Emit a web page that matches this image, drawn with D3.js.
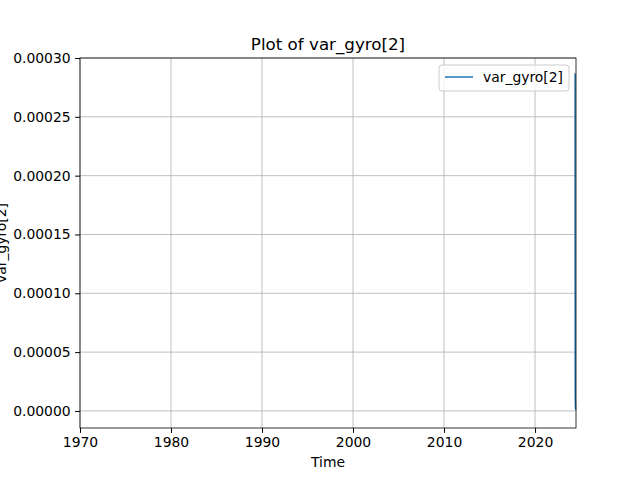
<!DOCTYPE html>
<html><head><meta charset="utf-8">
<script src="https://cdn.jsdelivr.net/npm/d3@7"></script>
<style>body{margin:0;background:#fff}text{font-family:"DejaVu Sans",sans-serif}</style>
</head><body><svg id="c" width="640" height="480"></svg>
<script>
// decimal years and variance values (all samples sit near the end)
var times = [2024.40, 2024.405, 2024.41, 2024.42, 2024.44, 2024.46];
var values = [0.000287, 0.00012, 0.00004, 0.000012, 0.000003, 0.000001];
var xTicks = [1970, 1980, 1990, 2000, 2010, 2020];
var yTicks = [0, 0.00005, 0.0001, 0.00015, 0.0002, 0.00025, 0.0003];

var svg = d3.select("#c");
var m = {l: 80, r: 576, t: 58, b: 428};
var x = d3.scaleLinear().domain([1970, 2024.5]).range([m.l, m.r]);
var y = d3.scaleLinear().domain([-0.0000145, 0.0003]).range([m.b, m.t]);

// grid
svg.append("g").selectAll("line").data(xTicks).enter().append("line")
    .attr("x1", function (d) { return x(d); }).attr("x2", function (d) { return x(d); })
    .attr("y1", m.t).attr("y2", m.b).attr("stroke", "#b0b0b0").attr("stroke-width", 0.8);
svg.append("g").selectAll("line").data(yTicks).enter().append("line")
    .attr("y1", function (d) { return y(d); }).attr("y2", function (d) { return y(d); })
    .attr("x1", m.l).attr("x2", m.r).attr("stroke", "#b0b0b0").attr("stroke-width", 0.8);

var xa = svg.append("g").attr("transform", "translate(0," + m.b + ")")
    .call(d3.axisBottom(x).tickValues(xTicks).tickFormat(d3.format("d")).tickSize(4.9).tickPadding(4.5));
var ya = svg.append("g").attr("transform", "translate(" + m.l + ",0)")
    .call(d3.axisLeft(y).tickValues(yTicks).tickFormat(d3.format(".5f")).tickSize(4.9).tickPadding(4.5));
[xa, ya].forEach(function (a) {
    a.select(".domain").remove();
    a.selectAll("text").attr("font-size", 13.9).attr("fill", "#000");
    a.selectAll("line").attr("stroke", "#000");
});

svg.append("path").datum(d3.range(times.length))
    .attr("fill", "none").attr("stroke", "#1f77b4").attr("stroke-width", 1.5)
    .attr("d", d3.line().x(function (i) { return x(times[i]); }).y(function (i) { return y(values[i]); }));

svg.append("rect").attr("x", m.l).attr("y", m.t).attr("width", m.r - m.l).attr("height", m.b - m.t)
    .attr("fill", "none").attr("stroke", "#000").attr("stroke-width", 0.8);

svg.append("text").attr("x", (m.l + m.r) / 2).attr("y", 50).attr("text-anchor", "middle")
    .attr("font-size", 16.7).text("Plot of var_gyro[2]");
svg.append("text").attr("x", (m.l + m.r) / 2).attr("y", 467).attr("text-anchor", "middle")
    .attr("font-size", 13.9).text("Time");
svg.append("text").attr("transform", "translate(6," + (m.t + m.b) / 2 + ") rotate(-90)")
    .attr("text-anchor", "middle").attr("font-size", 13.9).text("var_gyro[2]");

var lg = svg.append("g").attr("transform", "translate(439,65)");
lg.append("rect").attr("width", 130).attr("height", 26).attr("rx", 3)
    .attr("fill", "#fff").attr("fill-opacity", 0.8).attr("stroke", "#ccc");
lg.append("line").attr("x1", 6).attr("x2", 34).attr("y1", 12).attr("y2", 12)
    .attr("stroke", "#1f77b4").attr("stroke-width", 1.5);
lg.append("text").attr("x", 44).attr("y", 17).attr("font-size", 13.9).text("var_gyro[2]");
</script></body></html>
